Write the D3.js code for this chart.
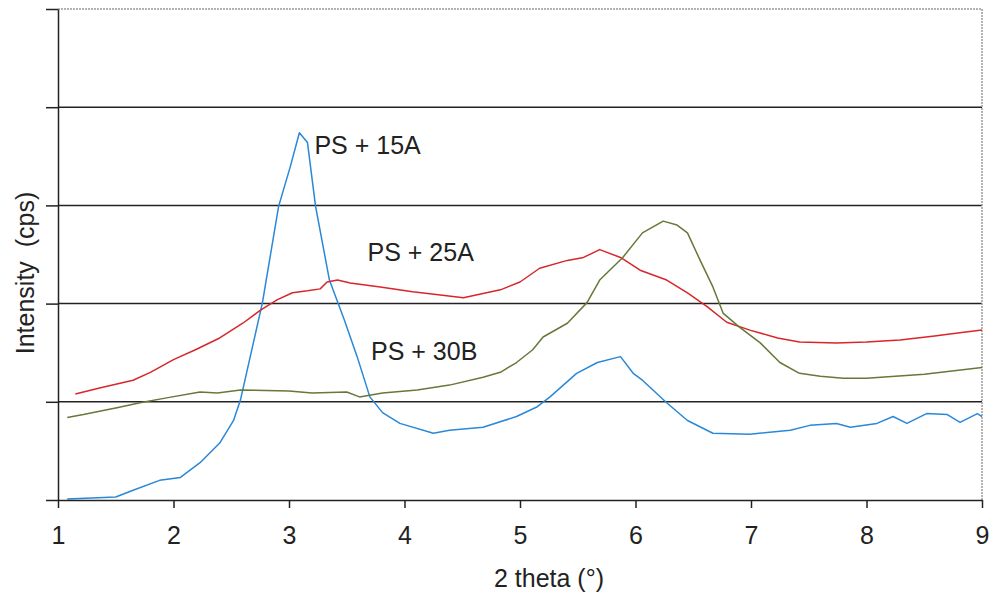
<!doctype html>
<html lang="en">
<head>
<meta charset="UTF-8">
<script src="https://d3js.org/d3.v7.min.js"></script>
<style>
body { margin: 0; background: #fff; }
svg text { font-family: Arial, "Liberation Sans", sans-serif; fill: #222; }
.grid line { stroke: #222; stroke-width: 1.5px; }
.axis path, .axis line { stroke: #222; stroke-width: 1.5px; }
.series { fill: none; stroke-width: 1.5px; stroke-linejoin: round; }
</style>
<title></title>
</head>
<body>
<div id="main"></div>
<script>
'use strict';

// 2 theta (deg) and intensity (grid units)
var blueX = [1.08, 1.50, 1.65, 1.88, 2.06, 2.23, 2.40, 2.52, 2.58, 2.77, 2.91, 3.01, 3.09, 3.16, 3.23, 3.35, 3.48, 3.59, 3.70, 3.81, 3.96, 4.25, 4.39, 4.68, 4.97, 5.15, 5.26, 5.49, 5.67, 5.87, 5.98, 6.06, 6.27, 6.45, 6.67, 6.99, 7.34, 7.51, 7.74, 7.86, 8.09, 8.23, 8.35, 8.52, 8.70, 8.81, 8.96, 9.00];
var blueY = [0.01, 0.03, 0.10, 0.20, 0.23, 0.38, 0.58, 0.81, 1.02, 2.01, 2.99, 3.39, 3.74, 3.64, 2.99, 2.24, 1.83, 1.46, 1.05, 0.89, 0.78, 0.68, 0.71, 0.74, 0.85, 0.95, 1.05, 1.29, 1.40, 1.46, 1.29, 1.22, 0.99, 0.81, 0.68, 0.67, 0.71, 0.76, 0.78, 0.74, 0.78, 0.85, 0.78, 0.88, 0.87, 0.79, 0.88, 0.85];

var redX = [1.15, 1.36, 1.65, 1.80, 2.00, 2.19, 2.40, 2.60, 2.75, 2.90, 3.03, 3.16, 3.27, 3.33, 3.42, 3.53, 3.79, 4.07, 4.22, 4.51, 4.83, 5.00, 5.17, 5.41, 5.55, 5.69, 5.87, 6.04, 6.27, 6.45, 6.62, 6.79, 6.99, 7.23, 7.42, 7.74, 8.00, 8.29, 8.59, 8.79, 9.00];
var redY = [1.08, 1.14, 1.22, 1.30, 1.43, 1.53, 1.65, 1.80, 1.93, 2.04, 2.11, 2.13, 2.15, 2.22, 2.24, 2.21, 2.17, 2.12, 2.10, 2.06, 2.14, 2.22, 2.36, 2.44, 2.47, 2.55, 2.47, 2.34, 2.24, 2.11, 1.97, 1.81, 1.73, 1.65, 1.61, 1.60, 1.61, 1.63, 1.67, 1.70, 1.73];

var greenX = [1.08, 1.22, 1.51, 1.71, 1.94, 2.23, 2.38, 2.58, 3.00, 3.20, 3.50, 3.61, 3.81, 4.11, 4.39, 4.68, 4.83, 4.97, 5.11, 5.20, 5.41, 5.58, 5.69, 5.89, 6.06, 6.24, 6.36, 6.45, 6.56, 6.67, 6.76, 6.90, 7.08, 7.25, 7.42, 7.60, 7.80, 8.00, 8.50, 9.00];
var greenY = [0.84, 0.87, 0.94, 0.99, 1.04, 1.10, 1.09, 1.12, 1.11, 1.09, 1.10, 1.05, 1.09, 1.12, 1.17, 1.25, 1.30, 1.40, 1.53, 1.66, 1.80, 2.01, 2.24, 2.47, 2.72, 2.84, 2.80, 2.72, 2.44, 2.17, 1.90, 1.76, 1.60, 1.40, 1.29, 1.26, 1.24, 1.24, 1.28, 1.35];

var seriesNames = ["PS + 15A", "PS + 25A", "PS + 30B"];
var xTicks = [1, 2, 3, 4, 5, 6, 7, 8, 9];
var yTicks = [0, 1, 2, 3, 4, 5];

var W = 994, H = 597;
var margin = {left: 58, right: 12, top: 9, bottom: 97};

var x = d3.scaleLinear().domain([1, 9]).range([margin.left, W - margin.right]);
var y = d3.scaleLinear().domain([0, 5]).range([H - margin.bottom, margin.top]);

var svg = d3.select("#main").append("svg")
  .attr("width", W)
  .attr("height", H);

// horizontal grid
svg.append("g")
  .attr("class", "grid")
  .selectAll("line")
  .data([1, 2, 3, 4])
  .enter().append("line")
  .attr("x1", x(1)).attr("x2", x(9))
  .attr("y1", function(d) { return y(d); })
  .attr("y2", function(d) { return y(d); });

// dotted frame on top and right
svg.append("path")
  .attr("d", "M" + x(1) + "," + y(5) + "H" + x(9) + "V" + y(0))
  .attr("fill", "none")
  .attr("stroke", "#9a9a9a")
  .attr("stroke-width", 1.5)
  .attr("stroke-dasharray", "2,1");

var line = d3.line()
  .x(function(d) { return x(d[0]); })
  .y(function(d) { return y(d[1]); });

var series = [
  {name: seriesNames[0], xs: blueX, ys: blueY, color: "#2a88d8"},
  {name: seriesNames[1], xs: redX, ys: redY, color: "#d8262a"},
  {name: seriesNames[2], xs: greenX, ys: greenY, color: "#66783a"}
];

svg.selectAll(".series")
  .data(series)
  .enter().append("path")
  .attr("class", "series")
  .attr("stroke", function(d) { return d.color; })
  .attr("d", function(d) { return line(d3.zip(d.xs, d.ys)); });

// axes
var xAxis = svg.append("g")
  .attr("class", "axis")
  .attr("transform", "translate(0," + y(0) + ")")
  .call(d3.axisBottom(x).tickValues(xTicks).tickSize(8).tickSizeOuter(0).tickPadding(18));
xAxis.selectAll("text").style("font-size", "25px").attr("fill", "#222");

var yAxis = svg.append("g")
  .attr("class", "axis")
  .attr("transform", "translate(" + x(1) + ",0)")
  .call(d3.axisLeft(y).tickValues(yTicks).tickSize(12).tickSizeOuter(0).tickFormat(""));

// series labels
var labelPos = [[3.22, 3.52], [3.68, 2.43], [3.71, 1.43]];
svg.selectAll(".lbl")
  .data(seriesNames)
  .enter().append("text")
  .attr("class", "lbl")
  .attr("x", function(d, i) { return x(labelPos[i][0]); })
  .attr("y", function(d, i) { return y(labelPos[i][1]); })
  .style("font-size", "25px")
  .text(function(d) { return d; });

// axis titles
svg.append("text")
  .attr("x", 549)
  .attr("y", 587)
  .attr("text-anchor", "middle")
  .style("font-size", "25px")
  .text("2 theta (\u00b0)");

svg.append("text")
  .attr("transform", "translate(34,273) rotate(-90)")
  .attr("text-anchor", "middle")
  .style("font-size", "25px")
  .style("white-space", "pre")
  .text("Intensity  (cps)");
</script>
</body>
</html>
